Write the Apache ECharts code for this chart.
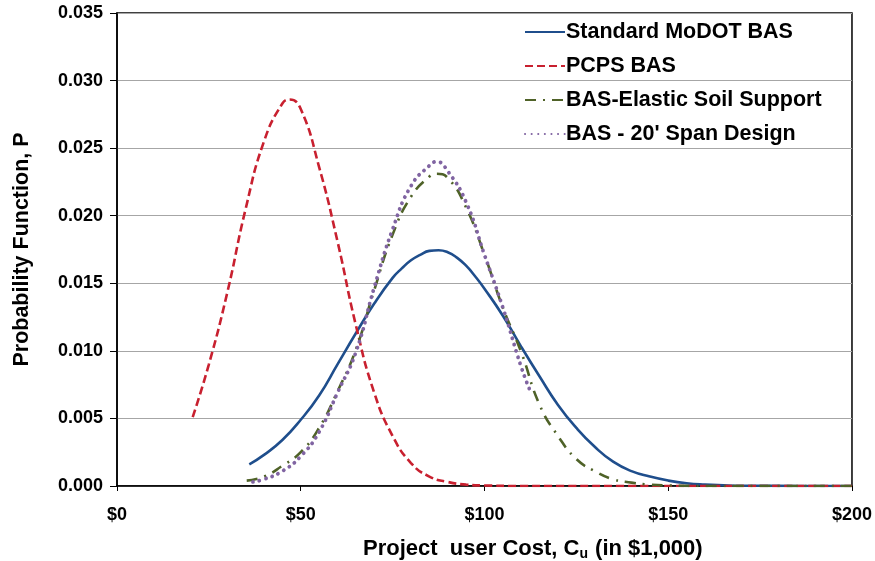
<!DOCTYPE html>
<html>
<head>
<meta charset="utf-8">
<script src="https://cdn.jsdelivr.net/npm/echarts@6/dist/echarts.min.js"></script>
<style>
  html, body {margin: 0; padding: 0; background: #fff;}
  #chart {width: 875px; height: 561px;}
</style>
</head>
<body>
<div id="chart"></div>
<script>
// values (x in $1,000, y = probability)
const seriesNames = ["Standard MoDOT BAS", "PCPS BAS", "BAS-Elastic Soil Support", "BAS - 20' Span Design"];

const modotX = [36, 40, 45, 50, 55, 60, 65, 70, 75, 77.5, 80, 82.5, 85, 87.5, 90, 92.5, 95, 97.5, 100, 105, 110, 115, 120, 125, 130, 135, 140, 145, 150, 155, 160, 165, 170, 180, 190, 200];
const modotY = [0.0016, 0.0023, 0.0034, 0.0049, 0.0067, 0.0090, 0.0113, 0.0135, 0.0154, 0.0161, 0.0167, 0.0171, 0.0174, 0.01745, 0.0173, 0.0169, 0.0163, 0.0155, 0.0146, 0.0126, 0.0103, 0.0081, 0.0060, 0.0043, 0.0029, 0.0018, 0.0011, 0.0007, 0.0004, 0.0002, 0.0001, 0.00005, 0.00002, 0.00001, 0, 0];

const pcpsX = [20.6, 25, 30, 35, 40, 45, 47, 50, 55, 60, 65, 70, 75, 80, 85, 90, 95, 100, 110, 120, 140, 160, 180, 200];
const pcpsY = [0.0051, 0.0090, 0.0143, 0.0205, 0.0255, 0.0283, 0.0286, 0.0279, 0.0236, 0.0181, 0.0119, 0.0069, 0.0037, 0.0017, 0.0007, 0.0003, 0.0001, 0.00004, 0, 0, 0, 0, 0, 0];

const elasticX = [35.3, 40, 45, 50, 55, 60, 65, 70, 75, 80, 85, 87, 90, 95, 100, 105, 110, 115, 120, 125, 130, 135, 140, 145, 150, 160, 180, 200];
const elasticY = [0.0004, 0.0007, 0.0015, 0.0025, 0.0043, 0.0070, 0.0101, 0.0145, 0.0186, 0.0214, 0.0229, 0.0231, 0.0228, 0.0206, 0.0171, 0.0132, 0.0099, 0.0060, 0.0037, 0.0020, 0.0011, 0.0005, 0.00025, 0.0001, 0.00004, 0, 0, 0];

const span20X = [37, 40, 45, 50, 55, 60, 65, 70, 75, 80, 85, 87, 90, 95, 100, 105, 110, 112.5];
const span20Y = [0.0003, 0.0005, 0.0011, 0.0022, 0.0040, 0.0069, 0.0099, 0.0147, 0.0190, 0.0222, 0.0237, 0.0240, 0.0233, 0.0210, 0.0171, 0.0132, 0.0088, 0.0070];

const xTicks = [0, 50, 100, 150, 200];

const zip = (xs, ys) => xs.map((x, i) => [x, ys[i]]);

const font = "Liberation Sans, Arial, sans-serif";
const chart = echarts.init(document.getElementById("chart"), null, {renderer: "canvas"});

const lineSeries = (name, data, color, width, type, cap) => ({
  name: name,
  type: "line",
  data: data,
  smooth: 0.5,
  showSymbol: false,
  symbol: "none",
  lineStyle: {color: color, width: width, type: type, cap: cap || "butt"},
  itemStyle: {color: color},
  emphasis: {disabled: true},
});

chart.setOption({
  animation: false,
  backgroundColor: "#fff",
  textStyle: {fontFamily: font},
  title: {
    text: "Project  user Cost, C{sub|u} (in $1,000)",
    left: 358,
    top: 531,
    textStyle: {
      fontFamily: font, fontSize: 22, fontWeight: "bold", color: "#000",
      rich: {
        sub: {fontFamily: font, fontSize: 14, fontWeight: "bold", color: "#000", padding: [11, 1, 0, 0]},
      },
    },
  },
  legend: {
    orient: "vertical",
    left: 519,
    top: 15,
    itemWidth: 40,
    itemHeight: 14,
    itemGap: 10,
    data: seriesNames,
    itemStyle: {opacity: 0},
    textStyle: {fontFamily: font, fontSize: 21.5, lineHeight: 24, fontWeight: "bold", color: "#000", padding: [0, 0, 0, -4]},
  },
  grid: {
    left: 117, right: 23, top: 13, bottom: 75,
    show: true, borderColor: "#000", borderWidth: 1.5,
  },
  xAxis: {
    type: "value",
    min: 0,
    max: 200,
    interval: 50,
    axisLine: {lineStyle: {color: "#000", width: 1.5}},
    axisTick: {show: true, length: 5, lineStyle: {color: "#000"}},
    splitLine: {show: false},
    axisLabel: {
      margin: 20,
      fontFamily: font, fontSize: 18, fontWeight: "bold", color: "#000",
      formatter: (v) => xTicks.includes(v) ? "$" + v : "",
    },
  },
  yAxis: {
    type: "value",
    min: 0,
    max: 0.035,
    interval: 0.005,
    name: "Probability Function, P",
    nameLocation: "middle",
    nameGap: 84,
    nameTextStyle: {fontFamily: font, fontSize: 21.5, fontWeight: "bold", color: "#000"},
    axisLine: {show: true, lineStyle: {color: "#000", width: 1.5}},
    axisTick: {show: true, length: 7, lineStyle: {color: "#000"}},
    splitLine: {show: true, lineStyle: {color: "#a6a6a6", width: 1.2}},
    axisLabel: {
      margin: 14,
      fontFamily: font, fontSize: 18, fontWeight: "bold", color: "#000",
      formatter: (v) => v.toFixed(3),
    },
  },
  series: [
    lineSeries(seriesNames[0], zip(modotX, modotY), "#1f4e8c", 2.6, "solid"),
    lineSeries(seriesNames[1], zip(pcpsX, pcpsY), "#c8202f", 2.6, [8, 4]),
    lineSeries(seriesNames[2], zip(elasticX, elasticY), "#4f6228", 2.6, [11, 7, 2, 7]),
    lineSeries(seriesNames[3], zip(span20X, span20Y), "#8064a2", 3.8, [0.1, 6.5], "round"),
  ],
});
</script>
</body>
</html>
